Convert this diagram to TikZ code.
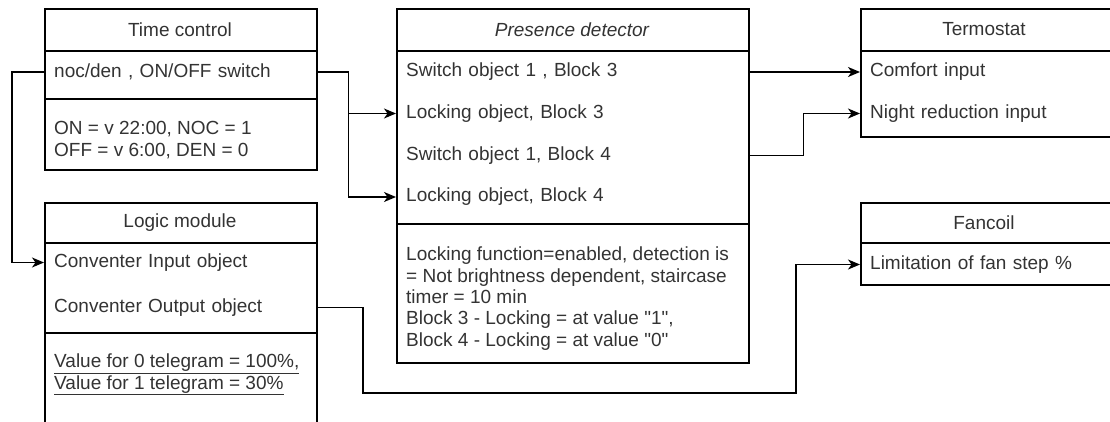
\documentclass[tikz,border=0pt]{standalone}
\usepackage{fontspec}
\setmainfont[Ligatures=TeXOff]{Liberation Sans}
\usetikzlibrary{arrows.meta}
\definecolor{txt}{HTML}{333333}
\newcommand{\ulgray}[1]{\textcolor{txt}{\underline{#1}}}
\begin{document}
\begin{tikzpicture}[x=1pt,y=-1pt,
  every node/.style={font=\fontsize{19}{21.3}\selectfont, text=txt},
  box/.style={draw, line width=1.5pt, inner sep=0pt, anchor=north west},
  ttl/.style={inner sep=0pt},
  row/.style={anchor=west, inner xsep=10pt, inner ysep=2pt, align=left},
  body/.style={anchor=west, inner xsep=10pt, inner ysep=0pt, align=left},
  wire/.style={line width=1.5pt},
  arr/.style={line width=1.5pt, -{Stealth[length=12pt,width=10pt,inset=3.5pt]}}
]
\useasboundingbox (0,0) rectangle (1110,421);
\clip (0,0) rectangle (1110,421);

% Time control
\node[box, minimum width=272pt, minimum height=161pt] (tc) at (44,8) {};
\draw[wire] (44,51) -- (316,51);
\draw[wire] (44,99) -- (316,99);
\node[ttl] (tct) at (180,29.5) {Time control};
\node[row, text width=252pt] (tc1) at (44,72) {noc/den , ON/OFF switch};
\node[body] (tcb) at (44,140) {ON = v 22:00, NOC = 1\\OFF = v 6:00, DEN = 0};

% Logic module
\node[box, minimum width=272pt, minimum height=240pt] (lm) at (44,202) {};
\draw[wire] (44,243) -- (316,243);
\draw[wire] (44,333) -- (316,333);
\node[ttl] (lmt) at (180,222.5) {Logic module};
\node[row, text width=252pt] (lm1) at (44,262.5) {Conventer Input object};
\node[row, text width=252pt] (lm2) at (44,307.5) {Conventer Output object};
\node[body] (lmb) at (44,374.5) {\ulgray{Value for 0 telegram = 100\%,}\\\ulgray{Value for 1 telegram = 30\%}};

% Presence detector
\node[box, minimum width=352pt, minimum height=354pt] (pd) at (396,8) {};
\draw[wire] (396,51) -- (748,51);
\draw[wire] (396,224) -- (748,224);
\node[ttl] (pdt) at (572,29.5) {\itshape Presence detector};
\node[row, text width=332pt] (pd1) at (396,72) {Switch object 1 , Block 3};
\node[row, text width=332pt] (pd2) at (396,113.5) {Locking object, Block 3};
\node[row, text width=332pt] (pd3) at (396,155.5) {Switch object 1, Block 4};
\node[row, text width=332pt] (pd4) at (396,197) {Locking object, Block 4};
\node[body] (pdb) at (396,298.5) {Locking function=enabled, detection is\\= Not brightness dependent, staircase\\timer = 10 min\\Block 3 - Locking = at value "1",\\Block 4 - Locking = at value "0"};

% Termostat
\node[box, minimum width=260pt, minimum height=128pt] (tt) at (860,8) {};
\draw[wire] (860,51) -- (1120,51);
\node[ttl] (ttt) at (984,29.5) {Termostat};
\node[row, text width=240pt] (tt1) at (860,72) {Comfort input};
\node[row, text width=240pt] (tt2) at (860,113.5) {Night reduction input};

% Fancoil
\node[box, minimum width=260pt, minimum height=82pt] (fc) at (860,202) {};
\draw[wire] (860,243) -- (1120,243);
\node[ttl] (fct) at (984,222.5) {Fancoil};
\node[row, text width=240pt] (fc1) at (860,264.5) {Limitation of fan step \%};

% Connectors
\draw[arr] (tc1.west) -- ++(-32,0) |- (lm1.west);
\draw[arr] (tc1.east) -- ++(32,0) |- (pd2.west);
\draw[arr] (tc1.east) -- ++(32,0) |- (pd4.west);
\draw[arr] (pd1.east) -- (tt1.west);
\draw[arr] (pd3.east) -- ++(55,0) |- (tt2.west);
\coordinate (k1) at (363,393);
\coordinate (k2) at (796,393);
\draw[arr] (lm2.east) -| (k1) -- (k2) |- (fc1.west);
\end{tikzpicture}
\end{document}
